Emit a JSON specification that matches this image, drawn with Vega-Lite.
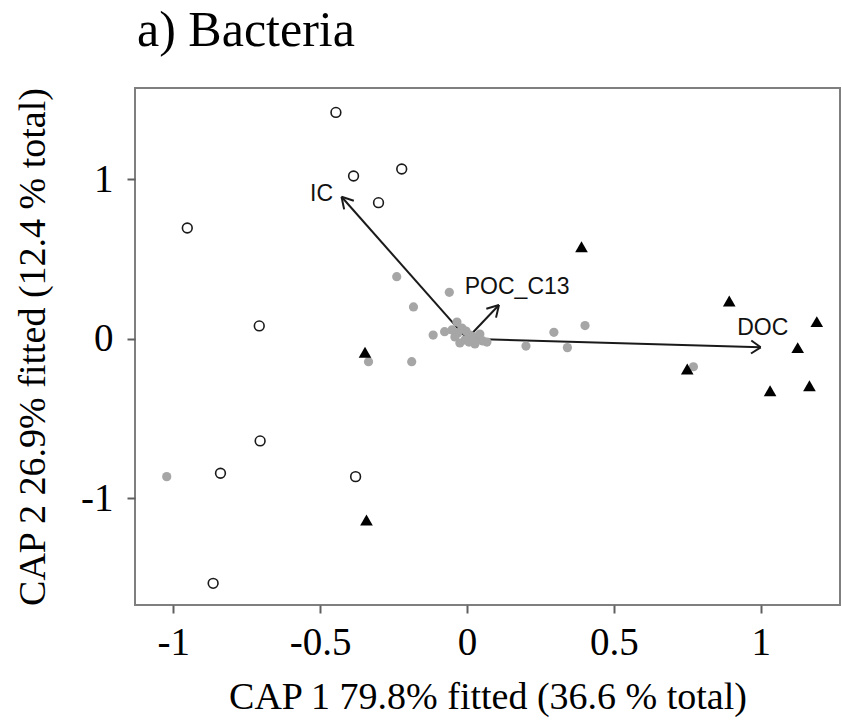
{
  "$schema": "https://vega.github.io/schema/vega-lite/v6.json",
  "width": 705,
  "height": 517,
  "autosize": {"type": "none"},
  "padding": {"left": 135, "top": 88, "right": 2, "bottom": 117},
  "background": "white",
  "title": {
    "text": "a) Bacteria",
    "anchor": "start",
    "frame": "group",
    "font": "Liberation Serif",
    "fontSize": 50,
    "fontWeight": "normal",
    "color": "#000000",
    "baseline": "bottom",
    "offset": 30,
    "dx": 2,
    "dy": 49
  },
  "config": {
    "view": {"stroke": "#7f7f7f", "strokeWidth": 2},
    "axis": {
      "grid": false,
      "domain": false,
      "ticks": true,
      "tickSize": 8,
      "tickColor": "#606060",
      "tickWidth": 2,
      "labelFont": "Liberation Serif",
      "labelFontSize": 39,
      "labelColor": "#000000",
      "labelFlush": false,
      "labelOverlap": false,
      "titleFont": "Liberation Serif",
      "titleFontSize": 38,
      "titleFontWeight": "normal",
      "titleColor": "#000000"
    }
  },
  "datasets": {
    "points": [
      {"x": -0.446, "y": 1.419, "type": "open"},
      {"x": -0.386, "y": 1.020, "type": "open"},
      {"x": -0.222, "y": 1.064, "type": "open"},
      {"x": -0.301, "y": 0.853, "type": "open"},
      {"x": -0.952, "y": 0.694, "type": "open"},
      {"x": -0.707, "y": 0.080, "type": "open"},
      {"x": -0.704, "y": -0.641, "type": "open"},
      {"x": -0.839, "y": -0.844, "type": "open"},
      {"x": -0.379, "y": -0.865, "type": "open"},
      {"x": -0.864, "y": -1.534, "type": "open"},
      {"x": -0.347, "y": -0.085, "type": "tri"},
      {"x": -0.342, "y": -1.137, "type": "tri"},
      {"x": 0.390, "y": 0.577, "type": "tri"},
      {"x": 0.893, "y": 0.236, "type": "tri"},
      {"x": 1.191, "y": 0.107, "type": "tri"},
      {"x": 1.126, "y": -0.056, "type": "tri"},
      {"x": 0.750, "y": -0.190, "type": "tri"},
      {"x": 1.032, "y": -0.326, "type": "tri"},
      {"x": 1.166, "y": -0.295, "type": "tri"},
      {"x": -0.239, "y": 0.389, "type": "grey"},
      {"x": -0.060, "y": 0.291, "type": "grey"},
      {"x": -0.182, "y": 0.199, "type": "grey"},
      {"x": -0.115, "y": 0.023, "type": "grey"},
      {"x": -0.076, "y": 0.044, "type": "grey"},
      {"x": 0.296, "y": 0.040, "type": "grey"},
      {"x": 0.402, "y": 0.082, "type": "grey"},
      {"x": 0.201, "y": -0.046, "type": "grey"},
      {"x": 0.342, "y": -0.056, "type": "grey"},
      {"x": 0.771, "y": -0.176, "type": "grey"},
      {"x": -0.188, "y": -0.144, "type": "grey"},
      {"x": -0.335, "y": -0.144, "type": "grey"},
      {"x": -1.022, "y": -0.865, "type": "grey"},
      {"x": -0.034, "y": 0.104, "type": "grey"},
      {"x": -0.017, "y": 0.067, "type": "grey"},
      {"x": -0.031, "y": 0.036, "type": "grey"},
      {"x": -0.003, "y": 0.048, "type": "grey"},
      {"x": 0.010, "y": 0.023, "type": "grey"},
      {"x": 0.024, "y": 0.011, "type": "grey"},
      {"x": 0.037, "y": -0.008, "type": "grey"},
      {"x": 0.054, "y": -0.014, "type": "grey"},
      {"x": 0.068, "y": -0.021, "type": "grey"},
      {"x": -0.024, "y": -0.027, "type": "grey"},
      {"x": -0.007, "y": -0.008, "type": "grey"},
      {"x": 0.007, "y": -0.021, "type": "grey"},
      {"x": 0.027, "y": -0.033, "type": "grey"},
      {"x": -0.041, "y": 0.011, "type": "grey"},
      {"x": 0.044, "y": 0.029, "type": "grey"},
      {"x": -0.051, "y": 0.055, "type": "grey"}
    ],
    "vectors": [
      {"var": "IC", "x": 0, "y": 0, "x2": -0.427, "y2": 0.890},
      {"var": "POC_C13", "x": 0, "y": 0, "x2": 0.109, "y2": 0.211},
      {"var": "DOC", "x": 0, "y": 0, "x2": 1.000, "y2": -0.054}
    ],
    "heads": [
      {"var": "IC", "x": -0.427, "y": 0.890, "x2": -0.418, "y2": 0.811},
      {"var": "IC", "x": -0.427, "y": 0.890, "x2": -0.385, "y2": 0.865},
      {"var": "POC_C13", "x": 0.109, "y": 0.211, "x2": 0.066, "y2": 0.188},
      {"var": "POC_C13", "x": 0.109, "y": 0.211, "x2": 0.099, "y2": 0.132},
      {"var": "DOC", "x": 1.000, "y": -0.054, "x2": 0.968, "y2": -0.011},
      {"var": "DOC", "x": 1.000, "y": -0.054, "x2": 0.967, "y2": -0.093}
    ],
    "labels": [
      {"var": "IC", "x": -0.495, "y": 0.905},
      {"var": "POC_C13", "x": 0.171, "y": 0.326},
      {"var": "DOC", "x": 1.007, "y": 0.065}
    ]
  },
  "encoding": {
    "x": {
      "field": "x",
      "type": "quantitative",
      "scale": {"domain": [-1.13, 1.27], "nice": false, "zero": false},
      "axis": {
        "values": [-1, -0.5, 0, 0.5, 1],
        "labelExpr": "'' + datum.value",
        "labelPadding": 10,
        "title": "CAP 1 79.8% fitted (36.6 % total)",
        "titleY": 103,
        "titleBaseline": "alphabetic"
      }
    },
    "y": {
      "field": "y",
      "type": "quantitative",
      "scale": {"domain": [-1.67, 1.572], "nice": false, "zero": false},
      "axis": {
        "values": [-1, 0, 1],
        "labelExpr": "'' + datum.value",
        "labelPadding": 14,
        "title": "CAP 2 26.9% fitted (12.4 % total)",
        "titleAngle": -90,
        "titleX": -91,
        "titleY": 258.5,
        "titleAlign": "center",
        "titleBaseline": "alphabetic"
      }
    }
  },
  "layer": [
    {
      "data": {"name": "vectors"},
      "mark": {"type": "rule", "color": "#1a1a1a", "strokeWidth": 2},
      "encoding": {"x2": {"field": "x2"}, "y2": {"field": "y2"}}
    },
    {
      "data": {"name": "heads"},
      "mark": {"type": "rule", "color": "#1a1a1a", "strokeWidth": 2},
      "encoding": {"x2": {"field": "x2"}, "y2": {"field": "y2"}}
    },
    {
      "data": {"name": "points"},
      "transform": [{"filter": "datum.type === 'grey'"}],
      "mark": {"type": "circle", "size": 85, "color": "#a6a6a6", "opacity": 1}
    },
    {
      "data": {"name": "points"},
      "transform": [{"filter": "datum.type === 'open'"}],
      "mark": {"type": "point", "shape": "circle", "size": 95, "filled": false, "stroke": "#1a1a1a", "strokeWidth": 1.6, "opacity": 1}
    },
    {
      "data": {"name": "points"},
      "transform": [{"filter": "datum.type === 'tri'"}],
      "mark": {"type": "point", "shape": "triangle-up", "size": 160, "filled": true, "color": "#000000", "opacity": 1}
    },
    {
      "data": {"name": "labels"},
      "mark": {"type": "text", "font": "Liberation Sans", "fontSize": 23, "color": "#111111", "align": "center", "baseline": "middle"},
      "encoding": {"text": {"field": "var"}}
    }
  ]
}
